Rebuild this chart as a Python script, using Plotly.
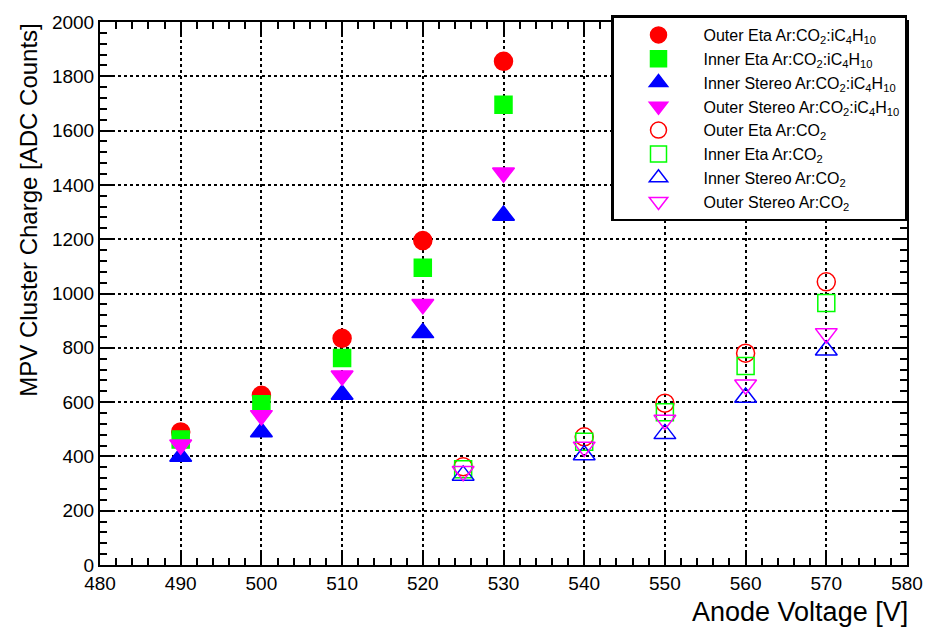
import plotly.graph_objects as go

voltage_mix = [490, 500, 510, 520, 530]
outer_eta_mix = [490, 625, 835, 1195, 1855]
inner_eta_mix = [462, 592, 762, 1095, 1695]
inner_stereo_mix = [400, 490, 628, 855, 1287]
outer_stereo_mix = [443, 551, 697, 960, 1445]

voltage_co2 = [525, 540, 550, 560, 570]
outer_eta_co2 = [362, 472, 596, 780, 1043]
inner_eta_co2 = [353, 454, 563, 733, 965]
inner_stereo_co2 = [330, 405, 483, 617, 791]
outer_stereo_co2 = [345, 435, 534, 664, 853]

names = [
    "Outer Eta Ar:CO<sub>2</sub>:iC<sub>4</sub>H<sub>10</sub>",
    "Inner Eta Ar:CO<sub>2</sub>:iC<sub>4</sub>H<sub>10</sub>",
    "Inner Stereo Ar:CO<sub>2</sub>:iC<sub>4</sub>H<sub>10</sub>",
    "Outer Stereo Ar:CO<sub>2</sub>:iC<sub>4</sub>H<sub>10</sub>",
    "Outer Eta Ar:CO<sub>2</sub>",
    "Inner Eta Ar:CO<sub>2</sub>",
    "Inner Stereo Ar:CO<sub>2</sub>",
    "Outer Stereo Ar:CO<sub>2</sub>",
]

series = [
    (voltage_mix, outer_eta_mix, "circle", "#ff0000", 18),
    (voltage_mix, inner_eta_mix, "square", "#00ff00", 17),
    (voltage_mix, inner_stereo_mix, "triangle-up", "#0000ff", 19),
    (voltage_mix, outer_stereo_mix, "triangle-down", "#ff00ff", 19),
    (voltage_co2, outer_eta_co2, "circle-open", "#ff0000", 18),
    (voltage_co2, inner_eta_co2, "square-open", "#00ff00", 17),
    (voltage_co2, inner_stereo_co2, "triangle-up-open", "#0000ff", 19),
    (voltage_co2, outer_stereo_co2, "triangle-down-open", "#ff00ff", 19),
]

fig = go.Figure()
for name, (x, y, sym, col, sz) in zip(names, series):
    fig.add_trace(go.Scatter(
        x=x, y=y, mode="markers", name=name,
        marker=dict(symbol=sym, color=col, size=sz, line=dict(color=col, width=1.5)),
    ))

font_family = "Liberation Sans Narrow, Liberation Sans, Arial, sans-serif"

axis_common = dict(
    showline=True, linecolor="black", linewidth=2, mirror="allticks",
    ticks="inside", ticklen=14, tickwidth=1.5, tickcolor="black",
    showgrid=True, gridcolor="black", griddash="dot", gridwidth=1.5,
    zeroline=False,
    tickfont=dict(family=font_family, size=19, color="black"),
)

fig.update_xaxes(
    range=[480, 580], dtick=10, tick0=480,
    minor=dict(ticks="inside", ticklen=7, dtick=2, tickcolor="black", tickwidth=1.5, showgrid=False),
    **axis_common,
)
fig.update_yaxes(
    range=[0, 2000], dtick=200, tick0=0,
    minor=dict(ticks="inside", ticklen=7, dtick=40, tickcolor="black", tickwidth=1.5, showgrid=False),
    **axis_common,
)

fig.add_annotation(
    text="Anode Voltage [V]", xref="paper", yref="paper",
    x=1.004, y=-0.087, xanchor="right", yanchor="middle", showarrow=False,
    font=dict(family="Liberation Sans, Arial", size=27, color="black"),
)
fig.add_annotation(
    text="MPV Cluster Charge [ADC Counts]", xref="paper", yref="paper",
    x=-0.089, y=1.0, xanchor="center", yanchor="top", showarrow=False, textangle=-90,
    font=dict(family="Liberation Sans, Arial", size=24, color="black"),
)

fig.update_layout(
    width=942, height=630,
    margin=dict(l=100, r=35, t=14, b=65),
    plot_bgcolor="white", paper_bgcolor="white",
    showlegend=True,
    legend=dict(
        x=1.0, y=1.012, xanchor="right", yanchor="top",
        bgcolor="white", bordercolor="black", borderwidth=2.5,
        font=dict(family="Liberation Sans, Arial", size=16, color="black"),
        tracegroupgap=0, itemsizing="trace", itemwidth=80,
    ),
)

fig.write_html("out.html")
